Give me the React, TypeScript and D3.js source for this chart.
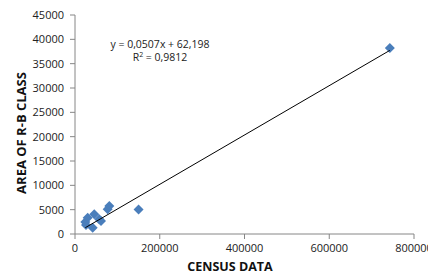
import React from 'react';
import * as d3 from 'd3';

// census population vs area of R-B class
const censusData = [24300, 26000, 30000, 41800, 45500, 57300, 61400, 77200, 81000, 150000, 743000];
const areaData = [2470, 1850, 3350, 1300, 4050, 3020, 2670, 5080, 5750, 5030, 38200];

const xTicks = [0, 200000, 400000, 600000, 800000];
const yTicks = [0, 5000, 10000, 15000, 20000, 25000, 30000, 35000, 40000, 45000];

const slope = 0.0507;
const intercept = 62.198;
const equationLabel = 'y = 0,0507x + 62,198';
const r2Label = '0,9812';

const width = 428;
const height = 277;
const margin = { left: 75, right: 14, top: 15, bottom: 43 };

const axisColor = '#868686';
const pointColor = '#4a7ebb';
const font = '"Open Sans", "Liberation Sans", sans-serif';

const App: React.FC = () => {
    const x = d3.scaleLinear().domain([0, 800000]).range([margin.left, width - margin.right]);
    const y = d3.scaleLinear().domain([0, 45000]).range([height - margin.bottom, margin.top]);

    const points = censusData.map((c, i) => ({ c, a: areaData[i] }));
    const diamond = d3.symbol().type(d3.symbolSquare).size(50)();

    const xMin = d3.min(censusData) as number;
    const xMax = d3.max(censusData) as number;
    const trend = d3.line<number>()
        .x(d => x(d))
        .y(d => y(slope * d + intercept));

    const y0 = y(0);

    return (
        <svg width={width} height={height} style={{ position: 'absolute', left: 0, top: 0, background: '#fff' }}>
            {/* y axis */}
            <line x1={x(0)} x2={x(0)} y1={y(0)} y2={y(45000)} stroke={axisColor} strokeWidth={1} />
            {yTicks.map(t => (
                <g key={t}>
                    <line x1={x(0) - 5} x2={x(0)} y1={y(t)} y2={y(t)} stroke={axisColor} />
                    <text x={x(0) - 11} y={y(t)} dy="0.35em" textAnchor="end"
                        fontFamily={font} fontSize={11} fill="#222">{t}</text>
                </g>
            ))}
            {/* x axis */}
            <line x1={x(0)} x2={x(800000)} y1={y0} y2={y0} stroke={axisColor} strokeWidth={1} />
            {xTicks.map(t => (
                <g key={t}>
                    <line x1={x(t)} x2={x(t)} y1={y0} y2={y0 + 5} stroke={axisColor} />
                    <text x={x(t)} y={y0 + 14} dy="0.35em" textAnchor="middle"
                        fontFamily={font} fontSize={11} fill="#222">{t}</text>
                </g>
            ))}

            {/* axis titles */}
            <text x={230} y={267} dy="0.35em" textAnchor="middle" fontFamily={font}
                fontSize={12.5} fontWeight="bold" fill="#111">CENSUS DATA</text>
            <text transform={`translate(21,133) rotate(-90)`} dy="0.35em" textAnchor="middle"
                fontFamily={font} fontSize={13} fontWeight="bold" fill="#111">AREA OF R-B CLASS</text>

            {/* points */}
            {points.map((p, i) => (
                <path key={i} d={diamond as string} fill={pointColor}
                    transform={`translate(${x(p.c)},${y(p.a)}) rotate(45)`} />
            ))}

            {/* trendline */}
            <path d={trend([xMin, xMax]) as string} fill="none" stroke="#000" strokeWidth={1} />

            {/* equation */}
            <text x={160} y={44} dy="0.35em" textAnchor="middle" fontFamily={font} fontSize={10.5} fill="#222">
                {equationLabel}
            </text>
            <text x={160} y={57} dy="0.35em" textAnchor="middle" fontFamily={font} fontSize={10.5} fill="#222">
                R<tspan fontSize={7} dy="-4">2</tspan><tspan dy="4"> = {r2Label}</tspan>
            </text>
        </svg>
    );
};

export default App;
